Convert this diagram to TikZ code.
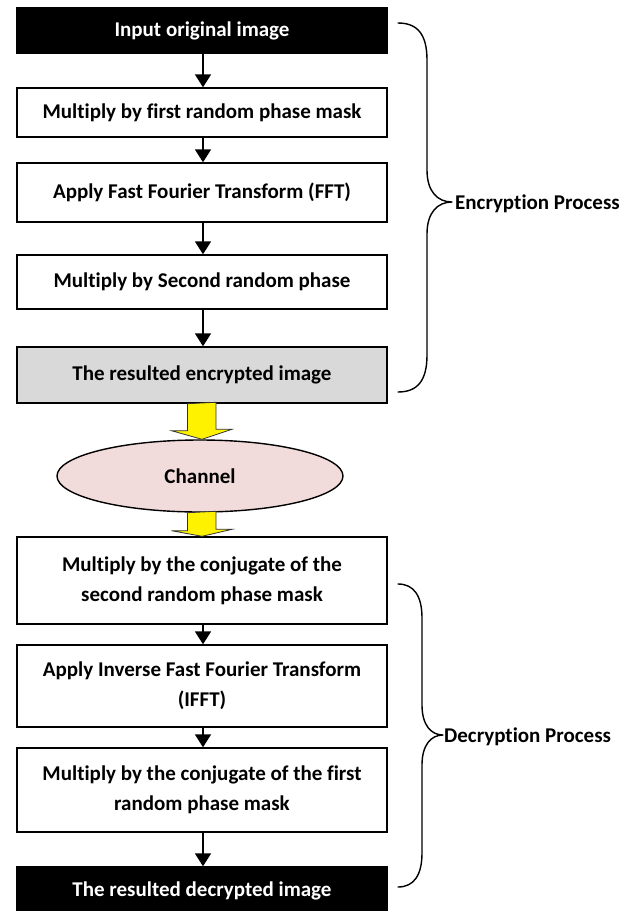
\documentclass[tikz,border=0pt]{standalone}
\usepackage{fontspec}
\setmainfont{Carlito}[Ligatures=NoCommon]
\usetikzlibrary{arrows.meta,shapes.geometric}
\begin{document}
\begin{tikzpicture}[x=1pt,y=-1pt,
  every node/.style={font=\fontsize{21}{30}\selectfont\bfseries, align=center, inner sep=0pt},
  stepbox/.style={draw=black, line width=1.4pt, fill=white, minimum width=370pt},
  blackbox/.style={stepbox, fill=black, text=white},
  graybox/.style={stepbox, fill=black!15},
  arr/.style={line width=1.8pt, -{Triangle[width=16pt,length=13pt]}},
  yarr/.style={draw=black!80, line width=0.8pt, fill=yellow},
  bracepath/.style={line width=1.4pt, line cap=round, line join=round}
]
\useasboundingbox (0,0) rectangle (640,911);
\begin{scope}
\clip (0,0) rectangle (640,911);
\node[blackbox, minimum height=45pt] (b1) at (202,30.5) {Input original image};
\node[stepbox, minimum height=49pt] (b2) at (202,112.5) {Multiply by first random phase mask};
\node[stepbox, minimum height=59pt] (b3) at (202,192.5) {Apply Fast Fourier Transform (FFT)};
\node[stepbox, minimum height=54pt] (b4) at (202,282) {Multiply by Second random phase};
\node[graybox, minimum height=56pt] (b5) at (202,375) {The resulted encrypted image};
\node[ellipse, draw=black, line width=1.4pt, fill={rgb,255:red,242;green,220;blue,219}, minimum width=286pt, minimum height=72pt] (ch) at (200,476) {Channel};
\node[stepbox, minimum height=87pt] (b6) at (202,580.5) {Multiply by the conjugate of the\\second random phase mask};
\node[stepbox, minimum height=82pt] (b7) at (202,686) {Apply Inverse Fast Fourier Transform\\(IFFT)};
\node[stepbox, minimum height=84pt] (b8) at (202,790) {Multiply by the conjugate of the first\\random phase mask};
\node[blackbox, minimum height=48pt] (b9) at (202,891) {The resulted decrypted image};
\end{scope}

\draw[arr] (b1.south -| 203,0) -- (b2.north -| 203,0);
\draw[arr] (b2.south -| 203,0) -- (b3.north -| 203,0);
\draw[arr] (b3.south -| 203,0) -- (b4.north -| 203,0);
\draw[arr] (b4.south -| 203,0) -- (b5.north -| 203,0);
\draw[arr] (b6.south -| 203,0) -- (b7.north -| 203,0);
\draw[arr] (b7.south -| 203,0) -- (b8.north -| 203,0);
\draw[arr] (b8.south -| 203,0) -- (b9.north -| 203,0);

% yellow block arrows
\path[yarr] ([xshift=-14.5pt]b5.south -| 202,0) -- ++(0,27) -- ++(-16,0) -- (ch.north -| 202,0) -- ++(30,-10) -- ++(-16,0) -- ++(0,-27) -- cycle;
\path[yarr] ([xshift=-14.5pt]ch.south -| 202,0) -- ++(0,18) -- ++(-16,0) -- (b6.north -| 202,0) -- ++(30,-7) -- ++(-16,0) -- ++(0,-18) -- cycle;

% braces
\coordinate (e1) at (398,23);
\coordinate (e2) at (452,202);
\coordinate (e3) at (398,392);
\draw[bracepath] (e1) .. controls (418,23) and (427,35) .. (427,60)
  -- (427,170) .. controls (427,192) and (438,202) .. (e2)
  .. controls (438,202) and (427,212) .. (427,234)
  -- (427,355) .. controls (427,380) and (418,392) .. (e3);
\node[anchor=west] (enc) at (455,204) {Encryption Process};

\coordinate (d1) at (398,584);
\coordinate (d2) at (443,735);
\coordinate (d3) at (398,887);
\draw[bracepath] (d1) .. controls (414,584) and (422,596) .. (422,618)
  -- (422,705) .. controls (422,725) and (431,735) .. (d2)
  .. controls (431,735) and (422,745) .. (422,765)
  -- (422,853) .. controls (422,875) and (414,887) .. (d3);
\node[anchor=west] (dec) at (444,737) {Decryption Process};
\end{tikzpicture}
\end{document}
